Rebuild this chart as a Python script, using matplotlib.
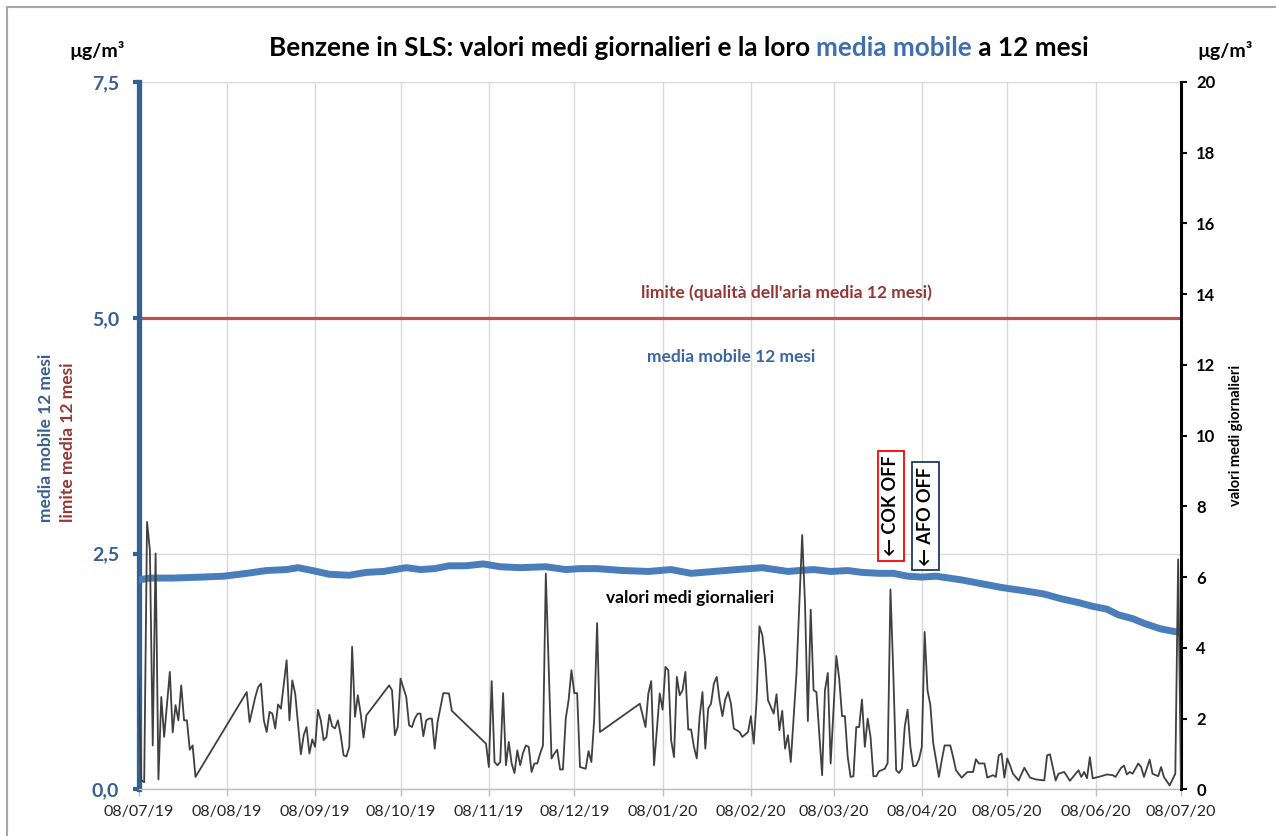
import pandas as pd
import matplotlib
matplotlib.use("Agg")
import matplotlib.pyplot as plt
from matplotlib.ticker import FixedLocator, FuncFormatter
from matplotlib.lines import Line2D

plt.rcParams['font.family'] = ['Lato', 'DejaVu Sans']

# --- data ---
start = pd.Timestamp('2019-07-08')
end = pd.Timestamp('2020-07-08')

# daily mean values (right axis), days since 08/07/19
daily_days = [0, 1, 2, 3, 4, 5, 6, 7, 8, 9, 11, 12, 13, 14, 15, 16, 17, 18, 19, 20,
              38, 39, 41, 42, 43, 44, 45, 46, 47, 48, 49, 50, 52, 53, 54, 55, 57, 58, 59, 60,
              61, 62, 63, 64, 65, 66, 67, 68, 69, 70, 71, 72, 73, 74, 75, 76, 77, 78, 79, 80,
              88, 89, 90, 91, 92, 94, 95, 96, 97, 98, 99, 100, 101, 102, 103, 104, 105, 107, 109, 110,
              122, 123, 124, 125, 126, 127, 128, 129, 130, 131, 132, 133, 134, 135, 136, 137, 138, 139, 140, 141,
              142, 143, 145, 146, 147, 148, 149, 150, 151, 152, 153, 154, 155, 157, 158, 159, 160, 161, 162,
              176, 178, 179, 180, 181, 183, 184, 185, 186, 187, 188, 189, 190, 191, 192, 193, 194, 195, 196, 197,
              198, 199, 200, 201, 202, 203, 204, 205, 206, 207, 208, 209, 211, 212, 214, 215, 216, 217, 218, 219,
              220, 221, 223, 224, 225, 226, 227, 228, 229, 231, 233, 234, 235, 236, 237, 238, 240, 241, 242, 243,
              245, 246, 247, 248, 249, 250, 251, 252, 253, 254, 255, 256, 257, 258, 259, 260, 262, 263, 264, 265,
              266, 267, 268, 269, 270, 271, 272, 273, 274, 275, 276, 277, 278, 279, 281, 282, 283, 285, 286, 287,
              289, 291, 293, 294, 295, 297, 298, 300, 301, 302, 303, 304, 305, 306, 307, 309, 311, 313, 315, 318,
              319, 320, 322, 323, 325, 327, 330, 331, 332, 333, 334, 335, 338, 340, 342, 343, 345, 346, 347, 348,
              349, 351, 352, 353, 355, 356, 358, 359, 360, 362, 364, 365, 366]
daily_vals = [3.18, 0.25, 0.20, 7.56, 6.76, 1.24, 6.67, 0.28, 2.61, 1.48, 3.32, 1.61, 2.38, 1.95, 2.94, 1.95, 1.95, 1.12, 1.24, 0.35,
              2.75, 1.90, 2.61, 2.89, 2.99, 1.95, 1.62, 2.19, 2.14, 1.72, 2.40, 2.28, 3.65, 1.95, 3.08, 2.71, 0.99, 1.53, 1.76, 1.01,
              1.41, 1.20, 2.25, 1.95, 1.39, 1.48, 2.11, 1.78, 1.72, 1.95, 1.53, 0.96, 0.93, 1.20, 4.03, 2.05, 2.66, 2.14, 1.46, 2.09,
              2.94, 2.80, 1.53, 1.76, 3.13, 2.61, 1.81, 1.76, 2.00, 2.14, 2.14, 1.50, 1.95, 2.00, 2.00, 1.15, 1.90, 2.72, 2.71, 2.22,
              1.29, 0.63, 3.06, 0.77, 0.68, 0.77, 2.72, 0.68, 1.34, 0.73, 0.46, 1.10, 0.68, 1.03, 1.24, 1.20, 0.49, 0.73, 0.73, 1.01,
              1.24, 6.10, 0.87, 1.01, 1.12, 0.56, 0.56, 2.00, 2.52, 3.37, 2.72, 2.72, 0.63, 0.58, 1.08, 0.77, 2.00, 4.70, 1.62,
              2.42, 1.76, 2.71, 3.06, 0.68, 2.71, 2.25, 3.46, 3.37, 1.39, 0.91, 3.18, 2.66, 2.80, 3.32, 1.69, 1.69, 1.20, 0.87, 2.05,
              2.75, 1.15, 2.28, 2.42, 2.99, 3.18, 2.52, 2.07, 2.54, 2.75, 2.42, 1.72, 1.62, 1.48, 1.62, 2.07, 1.29, 2.52, 4.61, 4.36,
              3.65, 2.52, 2.14, 2.69, 1.67, 2.22, 1.15, 1.53, 0.77, 3.27, 7.19, 5.25, 1.93, 5.08, 2.80, 2.75, 0.40, 2.80, 3.29, 0.73,
              3.77, 3.13, 2.07, 2.07, 0.91, 0.35, 0.37, 1.76, 1.76, 2.54, 1.20, 2.00, 1.48, 0.37, 0.37, 0.51, 0.58, 0.74, 5.65, 3.27,
              0.54, 0.46, 0.58, 1.76, 2.25, 1.20, 0.65, 0.67, 0.84, 1.20, 4.45, 2.80, 2.38, 1.31, 0.35, 0.82, 1.24, 1.24, 0.91, 0.54,
              0.33, 0.49, 0.49, 0.85, 0.73, 0.73, 0.33, 0.40, 0.35, 0.96, 1.01, 0.33, 0.87, 0.67, 0.44, 0.25, 0.61, 0.33, 0.28, 0.25,
              0.96, 0.99, 0.25, 0.44, 0.49, 0.24, 0.54, 0.35, 0.49, 0.31, 0.91, 0.31, 0.37, 0.42, 0.40, 0.35, 0.61, 0.67, 0.42, 0.49,
              0.44, 0.73, 0.63, 0.35, 0.84, 0.44, 0.37, 0.63, 0.35, 0.11, 0.44, 6.50, 0.02]

# 12-month moving average (left axis)
mm_days = [0, 4, 12, 22, 30, 38, 45, 52, 56, 61, 67, 74, 80, 86, 90, 94, 99, 104, 109, 115,
           121, 127, 134, 143, 150, 155, 161, 170, 179, 187, 194, 202, 210, 219, 228, 232, 237, 243, 249, 254,
           260, 265, 270, 275, 280, 289, 296, 303, 312, 318, 324, 330, 335, 340, 344, 349, 353, 359, 366]
mm_vals = [2.22, 2.24, 2.24, 2.25, 2.26, 2.29, 2.32, 2.33, 2.35, 2.32, 2.28, 2.27, 2.30, 2.31, 2.33, 2.35, 2.33, 2.34, 2.37, 2.37,
           2.39, 2.36, 2.35, 2.36, 2.33, 2.34, 2.34, 2.32, 2.31, 2.33, 2.29, 2.31, 2.33, 2.35, 2.31, 2.32, 2.33, 2.31, 2.32, 2.30,
           2.29, 2.29, 2.26, 2.25, 2.26, 2.22, 2.18, 2.14, 2.10, 2.07, 2.02, 1.98, 1.94, 1.91, 1.85, 1.81, 1.76, 1.70, 1.66]

limit_value = 5.0
left_ticks = [0, 2.5, 5.0, 7.5]
right_ticks = list(range(0, 21, 2))
month_ticks = pd.date_range(start, end, freq=pd.DateOffset(months=1))

daily_dates = start + pd.to_timedelta(daily_days, unit='D')
mm_dates = start + pd.to_timedelta(mm_days, unit='D')

BLUE_AX = '#376092'
BLUE_LINE = '#4A7EBB'
RED_LINE = '#C0504D'
RED_TXT = '#953735'
GRID = '#d9d9d9'

W, H = 1276, 836


def px(x, y):
    return x / W, 1 - y / H


fig = plt.figure(figsize=(W / 100, H / 100), dpi=100)
x0, y_top, x1, y_bot = 138.5, 82, 1181, 789.3
ax = fig.add_axes([x0 / W, 1 - y_bot / H, (x1 - x0) / W, (y_bot - y_top) / H])

# left axis: moving average + limit
ax.plot(mm_dates, mm_vals, color=BLUE_LINE, lw=5, solid_capstyle='round', zorder=3)
ax.axhline(limit_value, color=RED_LINE, lw=2.3, zorder=2)
ax.set_xlim(start, end)
ax.set_ylim(0, 7.5)
ax.yaxis.set_major_locator(FixedLocator(left_ticks))
ax.yaxis.set_major_formatter(FuncFormatter(lambda v, p: f"{v:.1f}".replace('.', ',')))
ax.xaxis.set_major_locator(FixedLocator(matplotlib.dates.date2num(month_ticks)))
ax.set_xticklabels([d.strftime('%d/%m/%y') for d in month_ticks])
ax.grid(True, color=GRID, lw=1, zorder=0)
ax.set_axisbelow(True)
for s in ['top', 'right']:
    ax.spines[s].set_visible(False)
ax.spines['left'].set_color(BLUE_AX)
ax.spines['left'].set_linewidth(3.8)
ax.spines['bottom'].set_color('#bfbfbf')
ax.spines['bottom'].set_linewidth(1)
ax.tick_params(axis='y', direction='out', length=4, width=3, color=BLUE_AX,
               labelcolor=BLUE_AX, labelsize=14, pad=10)
for lbl in ax.get_yticklabels():
    lbl.set_fontweight('bold')
ax.tick_params(axis='x', direction='out', length=5, width=1, color='#bfbfbf',
               labelcolor='#262626', labelsize=11.5, pad=6)

# right axis: daily values
ax2 = ax.twinx()
ax2.plot(daily_dates, daily_vals, color='#404040', lw=1.3, zorder=4)
ax2.set_ylim(0, 20)
ax2.set_xlim(start, end)
ax2.yaxis.set_major_locator(FixedLocator(right_ticks))
for s in ['top', 'left', 'bottom']:
    ax2.spines[s].set_visible(False)
ax2.spines['right'].set_color('black')
ax2.spines['right'].set_linewidth(2.2)
ax2.tick_params(axis='y', direction='out', length=4, width=1.5, color='black',
                labelsize=12, pad=7)
for lbl in ax2.get_yticklabels():
    lbl.set_fontweight('bold')

# units
fig.text(*px(97, 50), 'µg/m³', ha='center', va='center', fontsize=14, fontweight='bold')
fig.text(*px(1225, 50), 'µg/m³', ha='center', va='center', fontsize=14, fontweight='bold')

# axis titles
fig.text(*px(46, 522), 'media mobile 12 mesi', rotation=90, ha='center', va='bottom',
         fontsize=12.5, fontweight='bold', color=BLUE_AX)
fig.text(*px(68, 522), 'limite media 12 mesi', rotation=90, ha='center', va='bottom',
         fontsize=12.5, fontweight='bold', color=RED_TXT)
fig.text(*px(1236, 435), 'valori medi giornalieri', rotation=90, ha='center', va='center',
         fontsize=10.5, fontweight='bold', color='black')

# in-chart labels
fig.text(*px(786, 293), "limite (qualità dell'aria media 12 mesi)", ha='center', va='center',
         fontsize=12.5, fontweight='bold', color=RED_TXT)
fig.text(*px(731, 357), 'media mobile 12 mesi', ha='center', va='center',
         fontsize=12.5, fontweight='bold', color='#3A66A3')
fig.text(*px(690, 598), 'valori medi giornalieri', ha='center', va='center',
         fontsize=12.5, fontweight='bold', color='black')

fig.text(*px(891, 506), '← COK OFF', rotation=90, ha='center', va='center',
         fontsize=13, fontweight='bold', color='black',
         bbox=dict(boxstyle='square,pad=0.25', fc='white', ec='#ff0000', lw=1.3))
fig.text(*px(925.5, 516), '← AFO OFF', rotation=90, ha='center', va='center',
         fontsize=13, fontweight='bold', color='black',
         bbox=dict(boxstyle='square,pad=0.25', fc='white', ec='#1f3864', lw=1.3))

# title in three colours
parts = [('Benzene in SLS: valori medi giornalieri e la loro ', 'black'),
         ('media mobile', '#3F6FAE'),
         (' a 12 mesi', 'black')]
renderer = fig.canvas.get_renderer()
texts = []
for s, c in parts:
    t = fig.text(0, 1 - 48 / H, s, ha='left', va='center', fontsize=18.8,
                 fontweight='bold', color=c)
    texts.append(t)
widths = [t.get_window_extent(renderer).width for t in texts]
xcur = 679 - sum(widths) / 2
for t, w in zip(texts, widths):
    t.set_x(xcur / W)
    xcur += w

# outer frame (left and top edges visible in the crop)
fig.add_artist(Line2D([7 / W, 7 / W], [0, 1 - 7 / H], color='#a6a6a6', lw=1.5))
fig.add_artist(Line2D([7 / W, 1], [1 - 7 / H, 1 - 7 / H], color='#a6a6a6', lw=1.5))

fig.savefig('out.png', dpi=100)
